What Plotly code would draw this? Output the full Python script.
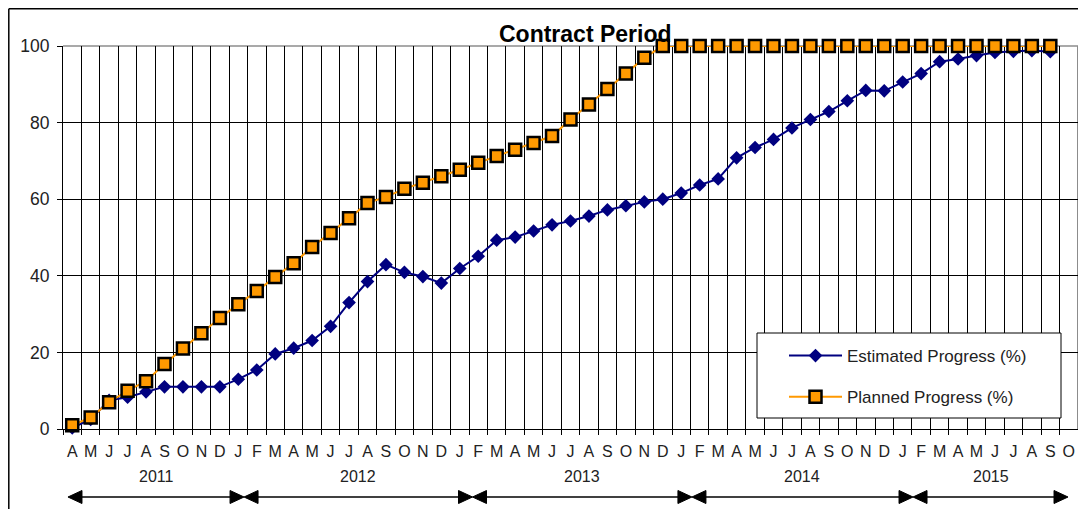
import plotly.graph_objects as go

# ---------------- data ----------------
months = (["A", "M", "J", "J", "A", "S", "O", "N", "D"]
          + ["J", "F", "M", "A", "M", "J", "J", "A", "S", "O", "N", "D"] * 3
          + ["J", "F", "M", "A", "M", "J", "J", "A", "S", "O"])
years = ["2011", "2012", "2013", "2014", "2015"]

estimated = [0.3, 2.5, 7.5, 8.3, 9.7, 11, 11, 11, 11,
             13, 15.4, 19.6, 21.1, 23.1, 26.8, 33, 38.5, 42.9, 40.9, 39.8, 38.1,
             41.9, 45.1, 49.3, 50.1, 51.7, 53.3, 54.3, 55.6, 57.2, 58.3, 59.3, 60,
             61.6, 63.7, 65.3, 70.8, 73.5, 75.6, 78.6, 80.8, 82.9, 85.7, 88.4, 88.3,
             90.6, 92.8, 95.9, 96.6, 97.5, 98.3, 98.6, 98.8, 98.5]

planned = [1, 3, 7, 10, 12.5, 17, 21, 25, 29,
           32.6, 36, 39.7, 43.3, 47.5, 51.2, 55, 59, 60.6, 62.7, 64.3, 66,
           67.7, 69.5, 71.3, 72.9, 74.7, 76.5, 80.8, 84.7, 88.8, 92.8, 96.9, 100,
           100, 100, 100, 100, 100, 100, 100, 100, 100, 100, 100, 100,
           100, 100, 100, 100, 100, 100, 100, 100, 100]

# layout helpers (positions of the period arrows along the category axis)
period_bounds = [-0.23, 9.31, 21.69, 33.58, 45.56, 53.96]

FONT = "Arial, 'Liberation Sans', sans-serif"
OFF = 8  # page body margin in the browser
W, H = 1086 - OFF, 509 - OFF
L, R, T, B = 63 - OFF, 8, 46 - OFF, 80
PW, PH = W - L - R, H - T - B


def py(pixel_y):  # screen pixel -> paper
    return (H - B - (pixel_y - OFF)) / PH


def px(pixel_x):
    return (pixel_x - OFF - L) / PW


n = len(months)
xs = list(range(len(planned)))

fig = go.Figure()
fig.add_trace(go.Scatter(
    x=xs, y=estimated, name="Estimated Progress (%)", mode="lines+markers",
    line=dict(color="#000080", width=2),
    marker=dict(symbol="diamond", size=10.5, color="#000080"),
    cliponaxis=False, legendgroup="a"))
fig.add_trace(go.Scatter(
    x=xs, y=planned, name="Planned Progress (%)", mode="lines+markers",
    line=dict(color="#FF9900", width=2),
    marker=dict(symbol="square", size=12, color="#FF9900",
                line=dict(color="black", width=2.5)),
    cliponaxis=False, legendgroup="b"))

bounds = [k - 0.5 for k in range(n + 1)]
fig.update_xaxes(
    range=[-0.5, n - 0.5], tickmode="array", tickvals=list(range(n)), ticktext=months,
    showgrid=False, ticks="", showline=True, linecolor="black", linewidth=1,
    zeroline=False, tickfont=dict(family=FONT, size=16, color="#222"),
    ticklabelstandoff=8, automargin=False,
    minor=dict(tickmode="array", tickvals=bounds, showgrid=True, gridcolor="black",
               gridwidth=1, ticks="outside", ticklen=5, tickcolor="black", tickwidth=1))
fig.update_yaxes(
    range=[0, 100], tickmode="array", tickvals=[0, 20, 40, 60, 80, 100],
    showgrid=True, gridcolor="black", gridwidth=1, showline=True, linecolor="black",
    linewidth=1, ticks="outside", ticklen=5, tickcolor="black", zeroline=False,
    tickfont=dict(family=FONT, size=17.5, color="#222"), ticklabelstandoff=4,
    automargin=False)

shapes = [
    # plot area border (top & right), grey
    dict(type="line", xref="paper", yref="paper", x0=0, x1=1, y0=1, y1=1,
         line=dict(color="#8c8c8c", width=1.5), layer="between"),
    dict(type="line", xref="paper", yref="paper", x0=1, x1=1, y0=0, y1=1,
         line=dict(color="#8c8c8c", width=2), layer="between"),
    # outer chart frame (left & top visible)
    dict(type="line", xref="paper", yref="paper", x0=px(8.8), x1=px(8.8), y0=py(8.8),
         y1=py(520), line=dict(color="black", width=1.5)),
    dict(type="line", xref="paper", yref="paper", x0=px(8.8), x1=px(1100), y0=py(8.8),
         y1=py(8.8), line=dict(color="black", width=1.5)),
    # legend frame
    dict(type="rect", xref="paper", yref="paper", x0=px(757), x1=px(1061),
         y0=py(418), y1=py(333), fillcolor="white",
         line=dict(color="black", width=1), layer="above"),
]

annotations = [
    dict(text="<b>Contract Period</b>", xref="paper", yref="paper", x=px(585), y=py(34),
         showarrow=False, font=dict(family=FONT, size=23, color="black"),
         xanchor="center", yanchor="middle"),
]
ARROW_Y = py(497)
for i, yr in enumerate(years):
    a, b = period_bounds[i], period_bounds[i + 1]
    annotations.append(dict(text=yr, xref="x", yref="paper", x=(a + b) / 2, y=py(476),
                            showarrow=False, font=dict(family=FONT, size=16, color="#222"),
                            xanchor="center", yanchor="middle"))
    # period arrow: shaft + two filled heads
    shapes.append(dict(type="line", xref="x", yref="paper", x0=a + 0.4, x1=b - 0.4,
                       y0=ARROW_Y, y1=ARROW_Y, line=dict(color="black", width=1.5)))
    shapes.append(dict(type="path", xref="x", yref="paper", xsizemode="pixel",
                       ysizemode="pixel", xanchor=a, yanchor=ARROW_Y,
                       path="M0,0 L14,6.5 L14,-6.5 Z", fillcolor="black",
                       line=dict(color="black", width=1)))
    shapes.append(dict(type="path", xref="x", yref="paper", xsizemode="pixel",
                       ysizemode="pixel", xanchor=b, yanchor=ARROW_Y,
                       path="M0,0 L-14,6.5 L-14,-6.5 Z", fillcolor="black",
                       line=dict(color="black", width=1)))

fig.update_layout(
    width=W, height=H, autosize=False,
    margin=dict(l=L, r=R, t=T, b=B, pad=0),
    paper_bgcolor="white", plot_bgcolor="white",
    shapes=shapes, annotations=annotations,
    legend=dict(x=px(784), y=py(338), xanchor="left", yanchor="top",
                bgcolor="rgba(0,0,0,0)", borderwidth=0,
                font=dict(family=FONT, size=17, color="#222"),
                tracegroupgap=16, itemwidth=53),
    showlegend=True,
)

fig.write_html("out.html")
